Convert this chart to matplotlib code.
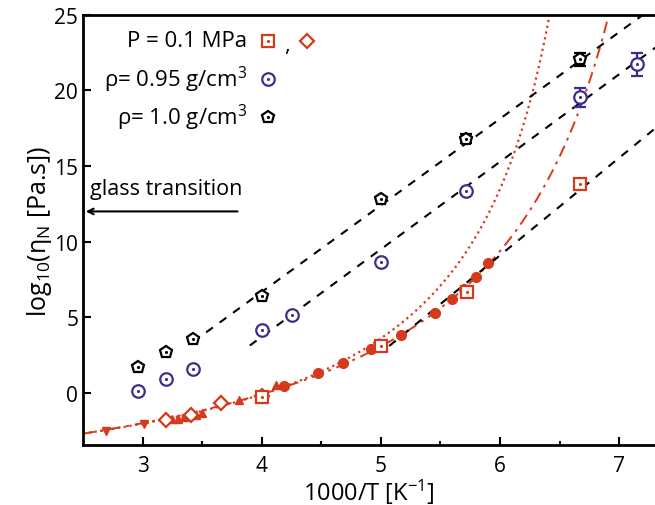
import numpy as np
import matplotlib
matplotlib.use("Agg")
import matplotlib.pyplot as plt

plt.rcParams["font.family"] = ["Open Sans", "DejaVu Sans"]
plt.rcParams["mathtext.fontset"] = "custom"
plt.rcParams["mathtext.rm"] = "Open Sans"
plt.rcParams["mathtext.it"] = "Open Sans"

RED = "#d63a1c"
BLUE = "#3a2f8c"

# rho = 1.0 g/cm3 (pentagons)
rho10_x = [2.96, 3.2, 3.42, 4.0, 5.0, 5.71, 6.67]
rho10_y = [1.74, 2.67, 3.53, 6.4, 12.85, 16.8, 22.05]
rho10_err = [0, 0, 0, 0, 0, 0.3, 0.45]

# rho = 0.95 g/cm3 (circles)
rho95_x = [2.96, 3.2, 3.42, 4.0, 4.25, 5.0, 5.71, 6.67, 7.15]
rho95_y = [0.11, 0.93, 1.59, 4.15, 5.17, 8.65, 13.36, 19.54, 21.74]
rho95_err = [0, 0, 0, 0, 0, 0, 0, 0.6, 0.75]

# P = 0.1 MPa
sq_x = [4.0, 5.0, 5.72, 6.67]
sq_y = [-0.3, 3.13, 6.7, 13.8]
dia_x = [3.2, 3.41, 3.66, 4.0]
dia_y = [-1.77, -1.44, -0.66, -0.18]
circ_x = [4.0, 4.19, 4.47, 4.68, 4.92, 5.17, 5.45, 5.6, 5.7, 5.8, 5.9]
circ_y = [-0.3, 0.44, 1.3, 1.99, 2.87, 3.84, 5.28, 6.2, 6.9, 7.66, 8.6]
tri_up_x = [3.25, 3.3, 3.35, 3.45, 3.5, 3.81, 4.12]
tri_up_y = [-1.75, -1.7, -1.6, -1.45, -1.35, -0.5, 0.53]
tri_dn_x = [2.69, 3.01]
tri_dn_y = [-2.5, -2.05]

# VFT fits: A + B/(T - T0), T = 1000/x
vft_dot = (-4.625, 503.0, 138.9)
vft_dashdot = (-4.88, 600.0, 124.6)

# Arrhenius dashed lines: (x_start, y_start, slope)
lin_rho10 = (3.42, 3.35, 5.73)
lin_rho95 = (3.9, 3.13, 5.79)
lin_p01 = (5.07, 3.1, 6.45)

fig = plt.figure(figsize=(6.55, 5.06), dpi=100)
ax = fig.add_axes([0.1267, 0.1186, 0.8733, 0.8500])

for a, b, t0 in [vft_dot]:
    xx = np.linspace(2.5, 6.5, 400)
    ax.plot(xx, a + b / (1000 / xx - t0), ":", color=RED, lw=1.6, zorder=2)
for a, b, t0 in [vft_dashdot]:
    xx = np.linspace(2.5, 6.95, 400)
    ax.plot(xx, a + b / (1000 / xx - t0), color=RED, lw=1.4, zorder=2,
            dashes=[6, 3, 1.5, 3])

for x0, y0, s in [lin_rho10, lin_rho95, lin_p01]:
    xx = np.array([x0, 7.4])
    ax.plot(xx, y0 + s * (xx - x0), color="black", lw=1.5, dashes=[4, 4], zorder=3)

# P = 0.1 MPa points
ax.plot(tri_dn_x, tri_dn_y, "v", color=RED, ms=6, zorder=4)
ax.plot(tri_up_x, tri_up_y, "^", color=RED, ms=6, zorder=4)
ax.plot(circ_x, circ_y, "o", color=RED, ms=7, zorder=4)
ax.plot(dia_x, dia_y, "D", mfc="white", mec=RED, mew=1.6, ms=7, zorder=5)
ax.plot(sq_x, sq_y, "s", mfc="white", mec=RED, mew=1.6, ms=8, zorder=5)
ax.plot(sq_x, sq_y, ".", color=RED, ms=2.5, zorder=6)

# rho = 0.95
ax.errorbar(rho95_x, rho95_y, yerr=rho95_err, fmt="o", mfc="white", mec=BLUE,
            ecolor=BLUE, mew=1.6, ms=9, capsize=4, elinewidth=1.6, capthick=1.6,
            zorder=5)
ax.plot(rho95_x, rho95_y, ".", color=BLUE, ms=2.5, zorder=6)

# rho = 1.0
ax.errorbar(rho10_x, rho10_y, yerr=rho10_err, fmt="p", mfc="white", mec="black",
            ecolor="black", mew=1.6, ms=9, capsize=4, elinewidth=1.6, capthick=1.6,
            zorder=5)
ax.plot(rho10_x, rho10_y, ".", color="black", ms=2.5, zorder=6)

# legend drawn by hand
tr = ax.transAxes
fs = 16
ax.text(0.287, 0.9395, "P = 0.1 MPa", transform=tr, ha="right", va="center", fontsize=fs)
ax.text(0.287, 0.851, "ρ= 0.95 g/cm$^3$", transform=tr, ha="right", va="center", fontsize=fs)
ax.text(0.287, 0.763, "ρ= 1.0 g/cm$^3$", transform=tr, ha="right", va="center", fontsize=fs)
ax.plot([0.3234], [0.9395], "s", transform=tr, mfc="white", mec=RED, mew=1.6, ms=8, clip_on=False)
ax.plot([0.3234], [0.9395], ".", transform=tr, color=RED, ms=2.5, clip_on=False)
ax.text(0.357, 0.93, ",", transform=tr, ha="center", va="center", fontsize=fs)
ax.plot([0.3916], [0.9395], "D", transform=tr, mfc="white", mec=RED, mew=1.6, ms=7, clip_on=False)
ax.plot([0.3234], [0.851], "o", transform=tr, mfc="white", mec=BLUE, mew=1.6, ms=9, clip_on=False)
ax.plot([0.3234], [0.851], ".", transform=tr, color=BLUE, ms=2.5, clip_on=False)
ax.plot([0.3234], [0.763], "p", transform=tr, mfc="white", mec="black", mew=1.6, ms=9, clip_on=False)
ax.plot([0.3234], [0.763], ".", transform=tr, color="black", ms=2.5, clip_on=False)

# glass transition arrow
ax.text(3.2, 13.5, "glass transition", ha="center", va="center", fontsize=15.5)
ax.annotate("", xy=(2.5, 12.0), xytext=(3.82, 12.0),
            arrowprops=dict(arrowstyle="->", color="black", lw=1.5))

ax.set_xlim(2.5, 7.3)
ax.set_ylim(-3.45, 25)
ax.set_xticks([3, 4, 5, 6, 7])
ax.set_xticks([3.5, 4.5, 5.5, 6.5], minor=True)
ax.set_yticks([0, 5, 10, 15, 20, 25])
ax.tick_params(direction="in", which="major", length=6, width=1.5, labelsize=15)
ax.tick_params(direction="in", which="minor", length=3, width=1.5)
ax.tick_params(axis="x", pad=7)
for side in ["left", "top", "bottom"]:
    ax.spines[side].set_linewidth(2)
ax.spines["right"].set_visible(False)

ax.set_xlabel("1000/T [K$^{-1}$]", fontsize=17, labelpad=1)
ax.set_ylabel("log$_{10}$(η$_N$ [Pa.s])", fontsize=18, labelpad=0)

fig.savefig("out.png", dpi=100)
